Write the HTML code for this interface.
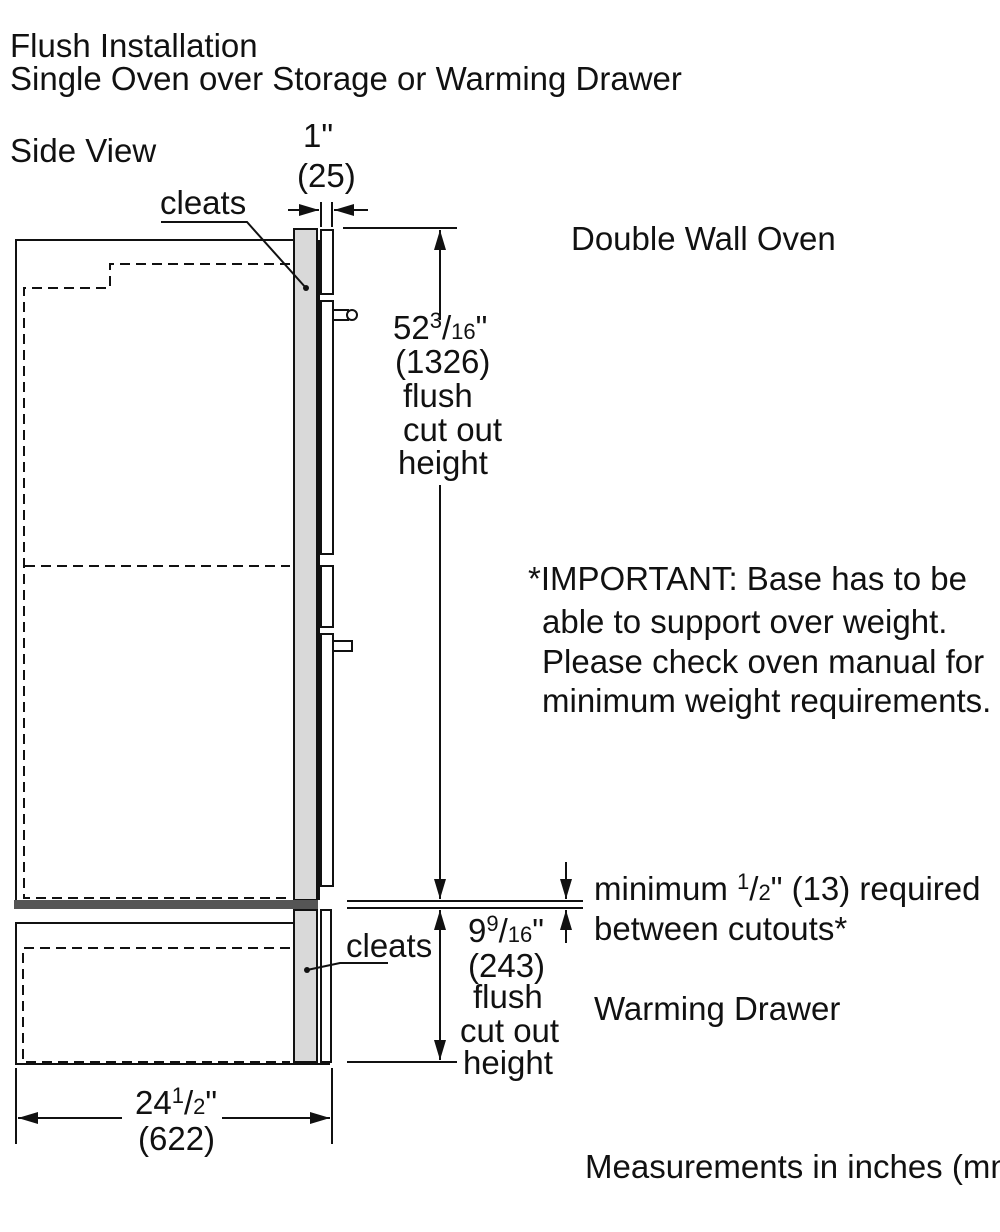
<!DOCTYPE html>
<html><head><meta charset="utf-8"><style>
html,body{margin:0;padding:0;background:#fff}
svg{display:block}
text{font-family:"Liberation Sans",Arial,sans-serif;fill:#111}
</style></head><body>
<svg width="1000" height="1232" viewBox="0 0 1000 1232" xmlns="http://www.w3.org/2000/svg">
<defs>
<marker id="b" viewBox="0 0 20 12" refX="20" refY="6" markerWidth="20" markerHeight="12" markerUnits="userSpaceOnUse" orient="auto"><path d="M0,0L20,6L0,12z" fill="#111"/></marker>
</defs>
<g font-size="33">
<text x="10" y="57">Flush Installation</text>
<text x="10" y="90">Single Oven over Storage or Warming Drawer</text>
<text x="10" y="162">Side View</text>
<text x="571" y="250">Double Wall Oven</text>
<text x="303" y="147">1"</text>
<text x="297" y="187">(25)</text>
<text x="160" y="214">cleats</text>
<text x="393" y="339">52<tspan font-size="22" dy="-11">3</tspan><tspan dy="11">/</tspan><tspan font-size="22">16</tspan>"</text>
<text x="395" y="373">(1326)</text>
<text x="403" y="407">flush</text>
<text x="403" y="441">cut out</text>
<text x="398" y="474">height</text>
<text x="528" y="590">*IMPORTANT: Base has to be</text>
<text x="542" y="633">able to support over weight.</text>
<text x="542" y="673">Please check oven manual for</text>
<text x="542" y="712">minimum weight requirements.</text>
<text x="594" y="900">minimum <tspan font-size="22" dy="-11">1</tspan><tspan dy="11">/</tspan><tspan font-size="22">2</tspan>" (13) required</text>
<text x="594" y="940">between cutouts*</text>
<text x="468" y="942">9<tspan font-size="22" dy="-11">9</tspan><tspan dy="11">/</tspan><tspan font-size="22">16</tspan>"</text>
<text x="468" y="977">(243)</text>
<text x="473" y="1008">flush</text>
<text x="460" y="1042">cut out</text>
<text x="463" y="1074">height</text>
<text x="346" y="957">cleats</text>
<text x="594" y="1020">Warming Drawer</text>
<text x="135" y="1114">24<tspan font-size="22" dy="-11">1</tspan><tspan dy="11">/</tspan><tspan font-size="22">2</tspan>"</text>
<text x="138" y="1150">(622)</text>
<text x="585" y="1178">Measurements in inches (mm)</text>
</g>
<g fill="none" stroke="#111" stroke-width="2">
<path d="M317,240H16V900"/>
<path d="M290,264H110V288H24V898H290" stroke-dasharray="10,6"/>
<path d="M25,566H290" stroke-dasharray="10,6"/>
<rect x="294" y="229" width="23" height="671" fill="#d9d9d9"/>
<line x1="319" y1="240" x2="319" y2="900"/>
<rect x="321" y="230" width="12" height="64" fill="#fff"/>
<rect x="321" y="301" width="12" height="253" fill="#fff"/>
<rect x="321" y="566" width="12" height="61" fill="#fff"/>
<rect x="321" y="634" width="12" height="252" fill="#fff"/>
<rect x="333" y="310" width="15" height="10" fill="#fff"/>
<circle cx="352" cy="315" r="5" fill="#fff"/>
<rect x="333" y="641" width="19" height="10" fill="#fff"/>
<path d="M318,923H16V1064H330"/>
<path d="M290,948H23V1062H290" stroke-dasharray="10,6"/>
<rect x="294" y="910" width="23" height="152" fill="#d9d9d9"/>
<rect x="321" y="910" width="10" height="152" fill="#fff"/>
<path d="M161,222H247L306,288"/>
<path d="M388,963H340L307,970"/>
<line x1="321" y1="202" x2="321" y2="227"/>
<line x1="332" y1="202" x2="332" y2="227"/>
<line x1="288" y1="210" x2="319" y2="210" marker-end="url(#b)"/>
<line x1="368" y1="210" x2="334" y2="210" marker-end="url(#b)"/>
<line x1="343" y1="228" x2="457" y2="228"/>
<line x1="440" y1="320" x2="440" y2="230" marker-end="url(#b)"/>
<line x1="440" y1="485" x2="440" y2="899" marker-end="url(#b)"/>
<line x1="347" y1="901" x2="583" y2="901"/>
<line x1="347" y1="908" x2="583" y2="908"/>
<line x1="566" y1="862" x2="566" y2="899" marker-end="url(#b)"/>
<line x1="566" y1="943" x2="566" y2="910" marker-end="url(#b)"/>
<line x1="440" y1="1000" x2="440" y2="910" marker-end="url(#b)"/>
<line x1="440" y1="990" x2="440" y2="1060" marker-end="url(#b)"/>
<line x1="347" y1="1062" x2="457" y2="1062"/>
<line x1="16" y1="1068" x2="16" y2="1144"/>
<line x1="332" y1="1068" x2="332" y2="1144"/>
<line x1="122" y1="1118" x2="18" y2="1118" marker-end="url(#b)"/>
<line x1="222" y1="1118" x2="330" y2="1118" marker-end="url(#b)"/>
</g>
<rect x="14" y="900" width="304" height="9" fill="#555"/>
<circle cx="306" cy="288" r="3" fill="#111"/>
<circle cx="307" cy="970" r="3" fill="#111"/>
</svg>
</body></html>
